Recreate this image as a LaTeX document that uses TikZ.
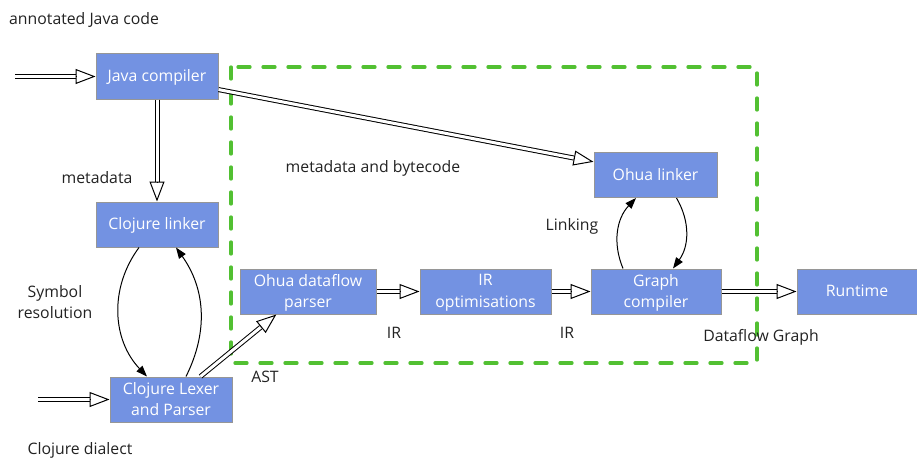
\documentclass[tikz,border=0pt]{standalone}
\usepackage{fontspec}
\setmainfont{Open Sans}
\usetikzlibrary{arrows.meta,calc}

\definecolor{boxblue}{RGB}{115,146,226}
\definecolor{boxgray}{RGB}{150,150,150}
\definecolor{groupgreen}{RGB}{82,192,50}
\definecolor{labelgray}{RGB}{34,34,34}

\tikzset{
  stage/.style={draw=boxgray, line width=1pt, fill=boxblue, text=white, align=center,
    minimum height=45pt, inner sep=0pt, text depth=1.5pt},
  lbl/.style={text=labelgray, align=center, inner sep=0pt},
  flowline/.style={double, double distance=3pt, line width=1pt},
  flowtip/.style={line width=1pt, -{Triangle[open, length=20pt, width=15pt]}},
  linkarrow/.style={line width=1pt, -{Triangle[length=11pt, width=8pt]}},
}

% double shaft + open head
\newcommand{\flowto}[2]{%
  \draw[flowline] (#1) -- ($(#2)!20pt!(#1)$);
  \draw[flowtip] ($(#2)!20pt!(#1)$) -- (#2);}

\begin{document}
\begin{tikzpicture}[x=1pt, y=-1pt, font=\fontsize{15.8}{21.5}\selectfont]
  \useasboundingbox (0,0) rectangle (917,460);

  \draw[groupgreen, line width=3.3pt, line cap=round, dash pattern=on 12pt off 13pt]
    (231,67) rectangle (757,363);

  \node[stage, minimum width=122pt] (java) at (157,76.5) {Java compiler};
  \node[stage, minimum width=122pt] (clink) at (157,224.5) {Clojure linker};
  \node[stage, minimum width=122pt] (lexer) at (171,399.5) {Clojure Lexer\\and Parser};
  \node[stage, minimum width=136pt] (parser) at (308,291.5) {Ohua dataflow\\parser};
  \node[stage, minimum width=131pt] (iropt) at (485.5,291.5) {IR\\optimisations};
  \node[stage, minimum width=130pt] (graph) at (656,291.5) {Graph\\compiler};
  \node[stage, minimum width=123pt] (olink) at (655.5,175) {Ohua linker};
  \node[stage, minimum width=120pt] (runtime) at (857,291.5) {Runtime};

  \coordinate (javain) at (15,76.5);
  \coordinate (lexin) at (38,399.5);

  \flowto{javain}{java.west}
  \flowto{lexin}{lexer.west}
  \flowto{java.south}{clink.north}
  \flowto{java.-12.5}{olink.168}
  \flowto{lexer.38}{parser.-144}
  \flowto{parser.east}{iropt.west}
  \flowto{iropt.east}{graph.west}
  \flowto{graph.east}{runtime.west}

  \draw[linkarrow] ([xshift=-18pt]clink.south) to[bend right=40] ([xshift=-24pt]lexer.north);
  \draw[linkarrow] ([xshift=15pt]lexer.north) to[bend right=31] ([xshift=19pt]clink.south);
  \draw[linkarrow] ([xshift=-33pt]graph.north) to[bend left=33] ([xshift=-19.5pt]olink.south);
  \draw[linkarrow] ([xshift=21pt]olink.south) to[bend left=33] ([xshift=17pt]graph.north);

  \node[lbl, anchor=west] (srcjava) at (9,20) {annotated Java code};
  \node[lbl] (meta) at (97,178) {metadata};
  \node[lbl] (symres) at (55,302) {Symbol\\resolution};
  \node[lbl] (srcclj) at (80,450) {Clojure dialect};
  \node[lbl] (metabc) at (373,168) {metadata and bytecode};
  \node[lbl] (linking) at (572,226) {Linking};
  \node[lbl] (ir1) at (394,333) {IR};
  \node[lbl] (ir2) at (567,333) {IR};
  \node[lbl] (ast) at (265,377) {AST};
  \node[lbl] (dfg) at (761,337) {Dataflow Graph};
\end{tikzpicture}
\end{document}
